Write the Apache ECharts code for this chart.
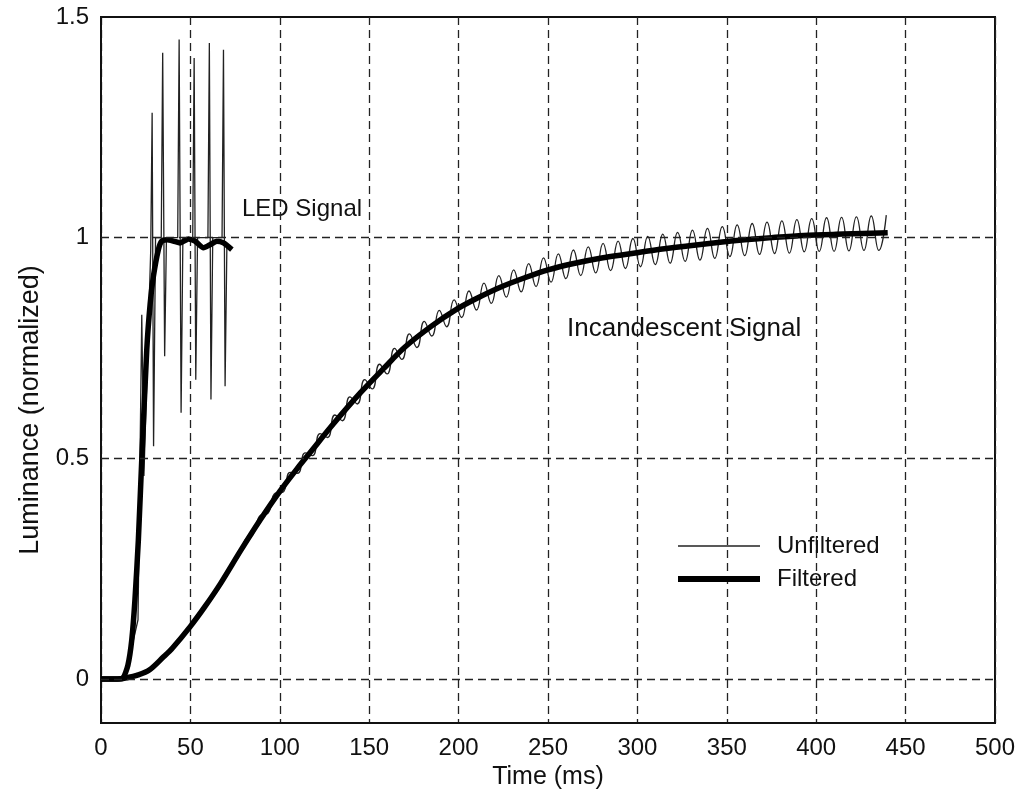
<!DOCTYPE html>
<html>
<head>
<meta charset="utf-8">
<script src="https://cdn.jsdelivr.net/npm/echarts@6/dist/echarts.min.js"></script>
<style>
html,body{margin:0;padding:0;background:#fff;}
#chart{width:1029px;height:796px;}
</style>
</head>
<body>
<div id="chart"></div>
<script>
// ---- data (time in ms, luminance normalized) ----
const xTicks = [0, 50, 100, 150, 200, 250, 300, 350, 400, 450, 500];
const yTickLabels = [0, 0.5, 1, 1.5];
const yGridLines = [0, 0.5, 1];

const ledUnfiltered = [
  [0, 0], [10, 0], [13, 0.01], [16, 0.05], [20.7, 0.134], [22.8, 0.825], [24.0, 0.46],
  [27.8, 0.97], [28.6, 1.283], [29.4, 0.527], [30.5, 1.0], [33.7, 1.0], [34.5, 1.419],
  [35.6, 0.731], [36.6, 1.0], [42.9, 1.0], [43.7, 1.449], [44.8, 0.603], [45.8, 1.0],
  [51.3, 1.0], [52.1, 1.407], [53.0, 0.678], [54.0, 1.0], [59.8, 1.0], [60.6, 1.441],
  [61.5, 0.633], [62.5, 1.0], [67.7, 1.0], [68.5, 1.426], [69.4, 0.663], [70.4, 0.98]
];

const ledFiltered = [
  [0, 0], [9, 0], [12.3, 0.002], [15, 0.03], [17.2, 0.088], [19, 0.18], [20.9, 0.315],
  [22.8, 0.497], [25.6, 0.746], [27.5, 0.85], [29.3, 0.912], [32.1, 0.973], [34, 0.992],
  [37, 0.995], [40.5, 0.992], [44.2, 0.988], [48.9, 0.997], [52.6, 0.992], [57.3, 0.977],
  [61, 0.984], [64.8, 0.992], [68.5, 0.988], [73.2, 0.973]
];

const incFiltered = [
  [0, 0], [10, 0], [15, 0.003], [20, 0.008], [27, 0.02], [35, 0.05], [40, 0.07], [50, 0.119],
  [58, 0.163], [67, 0.217], [78, 0.29], [89, 0.36], [100, 0.425], [110, 0.478], [117, 0.513],
  [130, 0.578], [145, 0.648], [158, 0.703], [170, 0.752], [185, 0.8], [199, 0.838],
  [210, 0.862], [223, 0.887], [237, 0.909], [250, 0.927], [265, 0.942], [280, 0.954],
  [295, 0.963], [310, 0.972], [328, 0.981], [345, 0.989], [360, 0.995], [375, 1.0],
  [393, 1.005], [415, 1.008], [440, 1.011]
];

const incUnfiltered = [
  [0, 0], [10, 0], [20, 0.008], [30, 0.03], [40, 0.07], [50, 0.119], [55, 0.145],
  [60.0, 0.170], [64.2, 0.205], [68.3, 0.220], [72.5, 0.259], [76.7, 0.274], [80.8, 0.316],
  [85.0, 0.327], [89.2, 0.371], [93.3, 0.375], [97.5, 0.421], [101.7, 0.423], [105.8, 0.468],
  [110.0, 0.466], [114.2, 0.512], [118.3, 0.506], [122.5, 0.556], [126.7, 0.547], [130.8, 0.598],
  [135.0, 0.585], [139.2, 0.639], [143.3, 0.623], [147.5, 0.678], [151.7, 0.657], [155.8, 0.713],
  [160.0, 0.691], [164.2, 0.749], [168.3, 0.724], [172.5, 0.782], [176.7, 0.751], [180.8, 0.810],
  [185.0, 0.777], [189.2, 0.835], [193.3, 0.798], [197.5, 0.859], [201.7, 0.819], [205.8, 0.879],
  [210.0, 0.836], [214.2, 0.897], [218.3, 0.851], [222.5, 0.914], [226.7, 0.865], [230.8, 0.927],
  [235.0, 0.877], [239.2, 0.941], [243.3, 0.889], [247.5, 0.954], [251.7, 0.899], [255.8, 0.963],
  [260.0, 0.907], [264.2, 0.972], [268.3, 0.914], [272.5, 0.979], [276.7, 0.920], [280.8, 0.987],
  [285.0, 0.925], [289.2, 0.992], [293.3, 0.930], [297.5, 0.998], [301.7, 0.934], [305.8, 1.003],
  [310.0, 0.939], [314.2, 1.008], [318.3, 0.942], [322.5, 1.012], [326.7, 0.946], [330.8, 1.017],
  [335.0, 0.949], [339.2, 1.021], [343.3, 0.953], [347.5, 1.025], [351.7, 0.957], [355.8, 1.029],
  [360.0, 0.959], [364.2, 1.032], [368.3, 0.962], [372.5, 1.035], [376.7, 0.964], [380.8, 1.038],
  [385.0, 0.965], [389.2, 1.041], [393.3, 0.968], [397.5, 1.043], [401.7, 0.969], [405.8, 1.045],
  [410.0, 0.969], [414.2, 1.046], [418.3, 0.970], [422.5, 1.047], [426.7, 0.971], [430.8, 1.049],
  [435.0, 0.971], [439.2, 1.051]
];

const FONT = "'Liberation Sans', Arial, Helvetica, sans-serif";
const gridDash = { color: '#222', width: 1.3, type: [8, 5] };

const chart = echarts.init(document.getElementById('chart'), null, { renderer: 'canvas' });
chart.setOption({
  backgroundColor: '#ffffff',
  animation: false,
  textStyle: { fontFamily: FONT, color: '#111' },
  grid: { left: 101, right: 34, top: 17, bottom: 73, show: true, borderColor: '#111', borderWidth: 2, backgroundColor: 'transparent' },
  xAxis: {
    type: 'value', min: xTicks[0], max: xTicks[xTicks.length - 1], interval: 50,
    name: 'Time (ms)', nameLocation: 'middle', nameGap: 40,
    nameTextStyle: { fontSize: 25, color: '#111', fontFamily: FONT },
    axisLine: { show: true, onZero: false, lineStyle: { color: '#111', width: 2 } },
    axisTick: { show: false },
    axisLabel: { fontSize: 24, color: '#111', margin: 13, fontFamily: FONT },
    splitLine: { show: true, lineStyle: gridDash }
  },
  yAxis: {
    type: 'value', min: -0.1, max: 1.5,
    axisLine: { show: true, lineStyle: { color: '#111', width: 2 } },
    axisTick: { show: false },
    axisLabel: { fontSize: 24, color: '#111', margin: 12, fontFamily: FONT, customValues: yTickLabels,
      formatter: v => String(v) },
    splitLine: { show: false }
  },
  legend: {
    show: true,
    data: [
      { name: 'Unfiltered', icon: 'path://M0,0H80V1.6H0Z', itemStyle: { color: '#222' } },
      { name: 'Filtered', icon: 'path://M0,0H80V6H0Z', itemStyle: { color: '#000' } }
    ],
    orient: 'vertical', left: 673, top: 529,
    itemWidth: 82, itemHeight: 14, itemGap: 9,
    formatter: name => '\u2002' + name,
    textStyle: { fontSize: 24, color: '#111', fontFamily: FONT },
    selectedMode: false
  },
  graphic: [
    { type: 'text', left: 242, top: 197, style: { text: 'LED Signal', font: '24px ' + FONT, fill: '#111' } },
    { type: 'text', left: 567, top: 316, style: { text: 'Incandescent Signal', font: '26px ' + FONT, fill: '#111' } },
    { type: 'text', x: 31, y: 410, rotation: Math.PI / 2,
      style: { text: 'Luminance (normalized)', font: '27px ' + FONT, fill: '#111', align: 'center', verticalAlign: 'middle' } }
  ],
  series: [
    {
      name: 'Unfiltered', type: 'line', data: incUnfiltered, showSymbol: false, symbol: 'none',
      smooth: 0.5, lineStyle: { color: '#222', width: 1.3 }, itemStyle: { color: '#222' }, z: 3,
      markLine: {
        silent: true, symbol: ['none', 'none'], label: { show: false },
        lineStyle: gridDash, animation: false,
        data: yGridLines.map(v => ({ yAxis: v }))
      }
    },
    {
      name: 'Unfiltered', type: 'line', data: ledUnfiltered, showSymbol: false, symbol: 'none',
      lineStyle: { color: '#222', width: 1.3 }, itemStyle: { color: '#222' }, z: 3
    },
    {
      name: 'Filtered', type: 'line', data: incFiltered, showSymbol: false, symbol: 'none',
      smooth: 0.3, lineStyle: { color: '#000', width: 5.5 }, itemStyle: { color: '#000' }, z: 4
    },
    {
      name: 'Filtered', type: 'line', data: ledFiltered, showSymbol: false, symbol: 'none',
      smooth: 0.2, lineStyle: { color: '#000', width: 5.5 }, itemStyle: { color: '#000' }, z: 4
    }
  ]
});
</script>
</body>
</html>
